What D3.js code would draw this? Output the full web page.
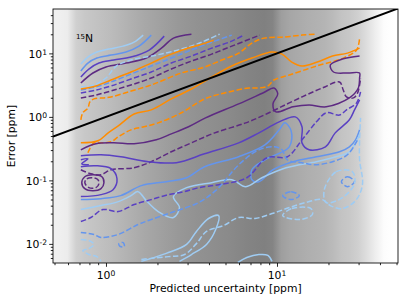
<!DOCTYPE html>
<html>
<head>
<meta charset="utf-8">
<script src="https://cdn.jsdelivr.net/npm/d3@7"></script>
<style>
  body { margin: 0; background: #fff; }
  text { font-family: "DejaVu Sans", sans-serif; fill: #000; }
</style>
</head>
<body>
<svg id="chart" width="407" height="301"></svg>
<script>
// background: density of predicted uncertainty, in log bins (lightness 0-255)
const shadeEdges = [0.49,0.562,0.631,0.708,0.794,0.891,1,1.12,1.26,1.41,1.58,1.78,2,2.24,2.51,2.82,3.16,3.55,3.98,4.47,5.01,5.62,6.31,7.08,7.94,8.91,10,11.2,12.6,14.1,15.8,17.8,20,22.4,25.1,28.2,31.6,35.5,39.8,44.7,51];
const shadeLevels = [240,236,208,200,196,192,188,183,178,173,168,164,160,156,152,149,146,144,142,140,138,135,132,130,128,132,158,166,170,174,177,180,186,195,200,208,222,238,252,255];

const xMajor = [1, 10];
const xMinor = [0.5,0.6,0.7,0.8,0.9,2,3,4,5,6,7,8,9,20,30,40,50];
const yMajor = [0.01, 0.1, 1, 10];
const yMinor = [0.006,0.007,0.008,0.009,0.02,0.03,0.04,0.05,0.06,0.07,0.08,0.09,0.2,0.3,0.4,0.5,0.6,0.7,0.8,0.9,2,3,4,5,6,7,8,9,20,30,40];

const parityLine = [[0.49,0.49],[51,51]];

// contour traces [predicted, error] in ppm
const lbSolidTop = [[0.713,6.79],[0.784,8.75],[0.885,10.5],[1.04,11.7],[1.26,13.0],[1.46,15.0],[1.65,19.4]];
const cbSolidTop = [[0.713,5.28],[0.784,7.04],[0.885,8.44],[1.07,9.40],[1.31,10.5],[1.56,13.0],[1.84,19.4]];
const inSolidTop = [[0.713,4.25],[0.794,5.67],[0.910,7.04],[1.11,7.85],[1.40,8.75],[1.79,11.3],[2.19,18.7]];
const dpSolidTop = [[0.713,3.42],[0.839,4.91],[1.0,6.10],[1.31,7.04],[1.72,8.44],[2.11,12.1],[2.48,17.4],[3.16,20.1]];
const lbDashTop = [[0.713,2.96],[0.850,3.18],[1.0,4.10],[1.15,6.32],[1.40,7.85],[1.97,9.40],[2.76,11.7],[3.62,15.0],[4.62,20.1]];
const orSolidTop = [[0.713,2.75],[0.873,3.07],[1.07,3.81],[1.40,5.09],[1.84,7.04],[2.41,9.75],[3.16,12.6],[3.82,14.5],[4.26,16.2]];
const cbDashTop = [[0.713,2.65],[0.873,2.96],[1.07,3.54],[1.40,4.73],[1.84,6.32],[2.41,8.44],[3.16,11.3],[4.15,15.0],[5.44,19.4]];
const inDashTop = [[0.713,2.38],[0.873,2.65],[1.07,3.07],[1.40,3.95],[1.84,5.09],[2.41,7.04],[3.16,9.07],[4.15,12.1],[5.44,15.6],[6.40,19.4]];
const dpDashTop = [[0.713,1.99],[0.873,2.21],[1.07,2.56],[1.40,3.18],[1.84,4.10],[2.41,5.67],[3.16,7.57],[4.15,9.75],[5.44,13.0],[7.94,19.4]];
const orDashUpper = [[0.713,0.90],[0.732,1.16],[0.784,1.38],[0.805,1.72],[0.850,1.92],[0.973,1.99],[1.07,2.06],[1.35,2.47],[1.84,3.18],[2.76,4.91],[3.77,6.10],[4.75,7.85],[5.97,10.1],[7.13,14.5],[8.39,17.4],[10.7,18.0],[14.0,19.4],[16.7,20.1]];
const orSolidLower = [[0.713,0.39],[0.897,0.42],[1.03,0.56],[1.18,0.72],[1.46,1.11],[1.84,1.29],[2.41,1.92],[3.16,2.75],[4.15,4.25],[5.44,6.32],[7.13,8.44],[9.35,10.5],[10.7,9.75],[12.2,7.30],[14.0,6.32],[17.2,7.30],[21.1,9.07],[25.8,10.1],[30.4,12.1]];
const orDashLower = [[0.784,0.272],[0.850,0.39],[0.935,0.39],[1.07,0.405],[1.18,0.485],[1.40,0.625],[1.67,0.70],[2.02,0.805],[2.76,1.16],[3.77,1.92],[4.94,2.38],[6.84,2.85],[7.84,2.85],[8.85,3.07],[9.60,3.81],[11.8,4.56],[17.0,6.32],[24.4,8.44],[29.2,11.3],[30.4,17.4]];
const dpSolidLower = [[0.713,0.303],[0.873,0.377],[1.11,0.39],[1.46,0.377],[1.97,0.435],[2.41,0.54],[3.04,0.70],[3.82,0.965],[5.97,1.60],[8.27,2.38],[9.60,2.85],[10.1,2.30],[9.47,1.60],[9.86,1.20],[12.4,1.44],[15.4,1.54],[19.4,1.44],[26.5,1.99],[29.9,2.85],[30.4,4.10],[30.4,4.91],[25.8,4.91],[21.4,5.09],[20.5,6.55],[24.1,8.14],[30.4,9.07]];
const dpDashLower = [[0.713,0.147],[0.816,0.127],[0.935,0.123],[1.07,0.147],[1.46,0.158],[1.84,0.197],[2.41,0.282],[3.16,0.39],[4.32,0.56],[6.57,0.805],[8.97,1.16],[11.8,1.66],[14.8,2.21],[18.4,2.85],[23.2,3.54],[24.4,2.65],[25.5,2.06],[28.0,1.99],[29.6,2.38],[30.8,4.10]];
const inSolidLower = [[0.713,0.244],[0.935,0.253],[1.22,0.236],[1.77,0.197],[2.58,0.19],[3.77,0.262],[5.97,0.39],[7.84,0.56],[10.3,0.835],[12.8,1.0],[14.0,0.70],[14.0,0.39],[15.4,0.303],[19.2,0.338],[21.9,0.56],[26.5,0.90],[28.4,1.29],[30.4,1.85]];
const inLoop = [[0.713,0.164],[0.873,0.17],[1.07,0.153],[1.16,0.106],[1.10,0.0714],[0.935,0.0597],[0.713,0.0555]];
const inSquiggle = [[0.713,0.211],[0.784,0.219],[0.722,0.183],[0.794,0.176]];
const dpRing = [[0.722,0.092],[0.752,0.114],[0.839,0.123],[0.947,0.114],[0.973,0.092],[0.935,0.0741],[0.839,0.0689],[0.752,0.0741]];
const dpRingInner = [[0.752,0.092],[0.773,0.106],[0.839,0.110],[0.897,0.1025],[0.910,0.0887],[0.873,0.0768],[0.794,0.0768]];
const cbSolidLower = [[0.713,0.0498],[0.935,0.0516],[1.22,0.0575],[1.61,0.0826],[2.25,0.0954],[2.96,0.110],[3.77,0.164],[5.97,0.236],[8.50,0.363],[10.3,0.625],[11.1,0.805],[12.1,0.603],[11.8,0.338],[8.50,0.211],[7.13,0.147],[7.13,0.1025],[7.84,0.0954],[9.47,0.147],[12.4,0.197],[17.0,0.236],[23.2,0.282],[26.5,0.338],[28.8,0.435],[30.4,0.625]];
const lbSolidLower = [[0.713,0.0347],[0.935,0.0401],[1.18,0.0463],[1.40,0.0575],[1.54,0.0665],[1.72,0.048],[2.02,0.0323],[2.48,0.026],[2.69,0.0373],[2.48,0.0555],[2.96,0.0768],[4.15,0.092],[5.44,0.1025],[6.57,0.0796],[8.16,0.110],[11.3,0.158],[17.0,0.197],[21.1,0.227],[26.5,0.282],[28.8,0.39],[30.4,0.52]];
const lbSolidLoop = [[1.61,0.0053],[2.25,0.0071],[2.96,0.0098],[3.38,0.0157],[3.98,0.0251],[4.56,0.0279],[4.38,0.0168],[3.87,0.0098],[3.16,0.0068],[2.69,0.0053]];
const lbSolidEdge = [[5.90,0.0051],[6.66,0.0061],[7.84,0.0068],[8.85,0.0066],[9.35,0.0053]];
const inDashLower = [[0.713,0.0225],[0.816,0.026],[0.960,0.0347],[1.18,0.0323],[1.46,0.0416],[1.84,0.0498],[2.32,0.0597],[2.88,0.0665],[3.48,0.0768],[4.56,0.0855],[6.66,0.110],[8.73,0.227],[11.5,0.236],[14.0,0.435],[17.0,0.835],[19.4,1.16],[23.2,1.07],[25.5,1.29],[29.2,1.66],[30.8,2.47]];
const cbDashLower = [[0.713,0.0151],[0.850,0.0141],[0.935,0.0126],[1.18,0.0141],[1.54,0.0202],[1.84,0.0242],[2.51,0.0323],[3.48,0.0447],[4.44,0.0714],[5.97,0.176],[7.84,0.303],[9.73,0.338],[10.7,0.303],[11.5,0.211],[14.0,0.19],[16.7,0.176],[21.1,0.197],[25.8,0.253],[29.6,0.435]];
const lbDashLower = [[1.61,0.0057],[2.32,0.0063],[2.88,0.0068],[3.38,0.0101],[3.87,0.0157],[4.88,0.0195],[5.97,0.026],[7.43,0.0251],[9.35,0.030],[11.8,0.0373],[14.6,0.0447],[18.4,0.0498],[20.5,0.0401],[24.1,0.036],[28.8,0.048],[31.6,0.0855],[30.4,0.211],[30.4,0.435],[30.8,0.965]];
const lbDashLeft = [[0.713,0.0117],[0.794,0.0113],[0.850,0.0098],[0.794,0.00847],[0.732,0.00788],[0.794,0.0068],[0.885,0.0063],[0.935,0.0053]];
const cbDashDot = [[1.26,0.0105],[1.19,0.0101],[1.21,0.0091],[1.28,0.0091]];
const cbDashRingA = [[10.8,0.0575],[12.1,0.0665],[13.5,0.0575],[12.1,0.0498]];
const cbDashRingB = [[23.8,0.0954],[25.8,0.114],[28.4,0.0954],[25.8,0.0796]];
const lbDashRingA = [[10.8,0.0279],[12.2,0.036],[15.8,0.036],[16.1,0.029],[13.65,0.0242]];
const lbDashRingB = [[18.9,0.0714],[22.2,0.137],[27.6,0.137],[28.4,0.0887],[24.1,0.0535],[19.4,0.0447]];

const orange = "#ff8c00", dpurple = "#5d2a82", indigo = "#5a41c2", cflower = "#6495ed", lblue = "#9fccf3";

const traces = [
  {d: lbSolidTop, c: lblue}, {d: cbSolidTop, c: cflower}, {d: inSolidTop, c: indigo}, {d: dpSolidTop, c: dpurple},
  {d: lbDashTop, c: lblue, dash: true}, {d: cbDashTop, c: cflower, dash: true}, {d: inDashTop, c: indigo, dash: true},
  {d: dpDashTop, c: dpurple, dash: true}, {d: orSolidTop, c: orange}, {d: orDashUpper, c: orange, dash: true},
  {d: orSolidLower, c: orange}, {d: orDashLower, c: orange, dash: true},
  {d: dpSolidLower, c: dpurple}, {d: dpDashLower, c: dpurple, dash: true},
  {d: inSolidLower, c: indigo}, {d: inLoop, c: indigo}, {d: inSquiggle, c: indigo},
  {d: dpRing, c: dpurple, closed: true}, {d: dpRingInner, c: dpurple, dash: true, closed: true},
  {d: cbSolidLower, c: cflower}, {d: lbSolidLower, c: lblue}, {d: lbSolidLoop, c: lblue}, {d: lbSolidEdge, c: lblue},
  {d: inDashLower, c: indigo, dash: true}, {d: cbDashLower, c: cflower, dash: true}, {d: lbDashLower, c: lblue, dash: true},
  {d: lbDashLeft, c: lblue, dash: true}, {d: cbDashDot, c: cflower, dash: true, closed: true},
  {d: cbDashRingA, c: cflower, dash: true, closed: true}, {d: cbDashRingB, c: cflower, dash: true, closed: true},
  {d: lbDashRingA, c: lblue, dash: true, closed: true}, {d: lbDashRingB, c: lblue, dash: true, closed: true}
];

const L = 53, R = 398, T = 9, B = 263;
const x = d3.scaleLog().domain([0.49, 51]).range([L, R]);
const y = d3.scaleLog().domain([0.005, 50]).range([B, T]);

const svg = d3.select("#chart");
const defs = svg.append("defs");
defs.append("clipPath").attr("id", "plot")
  .append("rect").attr("x", L).attr("y", T).attr("width", R - L).attr("height", B - T);

// smooth the binned density into a horizontal gradient, one stop per bin centre
const grad = defs.append("linearGradient").attr("id", "shade")
  .attr("gradientUnits", "userSpaceOnUse").attr("x1", L).attr("x2", R).attr("y1", 0).attr("y2", 0);
grad.selectAll("stop")
  .data(shadeLevels)
  .join("stop")
  .attr("offset", (d, i) => (x(Math.sqrt(shadeEdges[i] * shadeEdges[i + 1])) - L) / (R - L))
  .attr("stop-color", d => d3.rgb(d, d, d));

const plot = svg.append("g").attr("clip-path", "url(#plot)");
plot.append("rect").attr("x", L).attr("y", T).attr("width", R - L).attr("height", B - T)
  .attr("fill", "url(#shade)");

const openLine = d3.line().x(d => x(d[0])).y(d => y(d[1])).curve(d3.curveCatmullRom.alpha(0.5));
const closedLine = d3.line().x(d => x(d[0])).y(d => y(d[1])).curve(d3.curveCatmullRomClosed.alpha(0.5));

plot.selectAll("path.trace")
  .data(traces)
  .join("path")
  .attr("class", "trace")
  .attr("d", t => (t.closed ? closedLine : openLine)(t.d))
  .attr("fill", "none")
  .attr("stroke", t => t.c)
  .attr("stroke-width", 1.5)
  .attr("stroke-dasharray", t => t.dash ? "5.5,2.4" : null);

plot.append("path")
  .attr("d", d3.line().x(d => x(d[0])).y(d => y(d[1]))(parityLine))
  .attr("stroke", "#000").attr("stroke-width", 2).attr("fill", "none");

// axes
const gx = svg.append("g").attr("transform", `translate(0,${B})`);
gx.call(d3.axisBottom(x).tickValues(xMajor).tickSize(3.8).tickFormat(""));
gx.call(g => g.append("g").call(d3.axisBottom(x).tickValues(xMinor).tickSize(2.2).tickFormat("")));
const gy = svg.append("g").attr("transform", `translate(${L},0)`);
gy.call(d3.axisLeft(y).tickValues(yMajor).tickSize(3.8).tickFormat(""));
gy.call(g => g.append("g").call(d3.axisLeft(y).tickValues(yMinor).tickSize(2.2).tickFormat("")));
svg.selectAll(".domain").remove();
svg.selectAll(".tick line").attr("stroke", "#000").attr("stroke-width", 0.85);

function powLabel(sel, v) {
  sel.append("tspan").text("10");
  sel.append("tspan").attr("dy", "-0.42em").attr("font-size", "7.6px").text(Math.round(Math.log10(v)));
}
xMajor.forEach(v => {
  const t = svg.append("text").attr("x", x(v)).attr("y", 279).attr("font-size", "10.8px").attr("text-anchor", "middle");
  powLabel(t, v);
});
yMajor.forEach(v => {
  const t = svg.append("text").attr("x", 47).attr("y", y(v) + 4.5).attr("font-size", "10.8px").attr("text-anchor", "end");
  powLabel(t, v);
});

svg.append("rect").attr("x", L).attr("y", T).attr("width", R - L).attr("height", B - T)
  .attr("fill", "none").attr("stroke", "#000").attr("stroke-width", 0.85);

svg.append("text").attr("x", (L + R) / 2).attr("y", 292).attr("text-anchor", "middle")
  .attr("font-size", "10.8px").text("Predicted uncertainty [ppm]");
svg.append("text").attr("transform", `translate(15,${(T + B) / 2}) rotate(-90)`).attr("text-anchor", "middle")
  .attr("font-size", "10.8px").text("Error [ppm]");

const nucleus = svg.append("text").attr("x", 76).attr("y", 42).attr("font-size", "10.8px");
nucleus.append("tspan").attr("font-size", "7px").attr("dy", "-3.5").text("15");
nucleus.append("tspan").attr("dy", "3.5").text("N");
</script>
</body>
</html>
